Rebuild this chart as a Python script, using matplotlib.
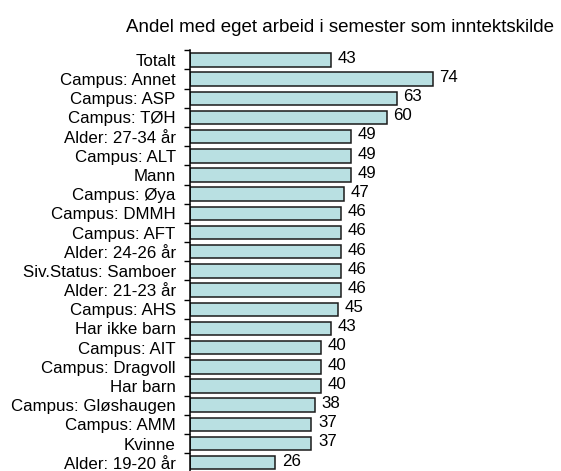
import matplotlib.pyplot as plt
import numpy as np
from matplotlib.ticker import FixedLocator

labels = ["Totalt", "Campus: Annet", "Campus: ASP", "Campus: TØH", "Alder: 27-34 år",
          "Campus: ALT", "Mann", "Campus: Øya", "Campus: DMMH", "Campus: AFT",
          "Alder: 24-26 år", "Siv.Status: Samboer", "Alder: 21-23 år", "Campus: AHS",
          "Har ikke barn", "Campus: AIT", "Campus: Dragvoll", "Har barn",
          "Campus: Gløshaugen", "Campus: AMM", "Kvinne", "Alder: 19-20 år"]
values = [43, 74, 63, 60, 49, 49, 49, 47, 46, 46, 46, 46, 46, 45, 43, 40, 40, 40, 38, 37, 37, 26]
title = "Andel med eget arbeid i semester som inntektskilde"

plt.rcParams['font.family'] = ['Liberation Sans', 'DejaVu Sans']

W, H = 561, 471
fig = plt.figure(figsize=(W / 100, H / 100), dpi=100)
# axes box in pixels: x 190..518, y 50.3..472.3 (from top)
ax = fig.add_axes([190 / W, 1 - 472.3 / H, 328 / W, 422 / H])

n = len(labels)
y = np.arange(n)
ax.barh(y, values, height=0.7, color='#b9e0e2', edgecolor='#1a1a1a', linewidth=1.1)
for yi, v in zip(y, values):
    ax.annotate(str(v), (v, yi), xytext=(4.8, 1.2), textcoords='offset points',
                va='center', ha='left', fontsize=12.2)

ax.set_xlim(0, 100)
ax.set_ylim(n - 0.5, -0.5)
ax.set_yticks(y)
ax.set_yticklabels(labels, fontsize=12.2)
ax.yaxis.set_minor_locator(FixedLocator(np.arange(n + 1) - 0.5))
ax.tick_params(axis='y', which='major', length=0, pad=10.3)
ax.tick_params(axis='y', which='minor', length=4, width=1, direction='out')
ax.set_xticks([])
for s in ['top', 'right', 'bottom']:
    ax.spines[s].set_visible(False)
ax.spines['left'].set_linewidth(1.1)

fig.text(339.5 / W, 1 - 31.7 / H, title, ha='center', va='baseline', fontsize=13.5)

fig.savefig('out.png', dpi=100)
